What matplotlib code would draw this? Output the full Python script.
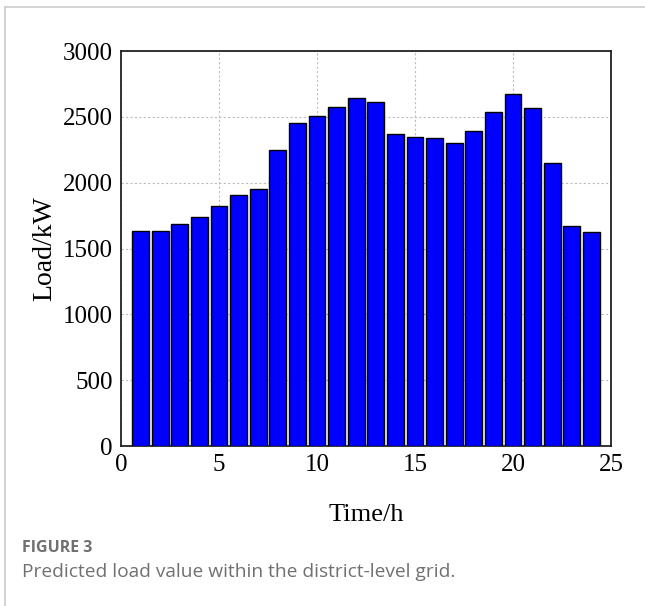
import matplotlib
matplotlib.use('Agg')
import matplotlib.pyplot as plt
from matplotlib.lines import Line2D

# hourly predicted load of the district grid
hours = list(range(1, 25))
load_kw = [1630, 1630, 1690, 1740, 1825, 1905, 1955, 2250, 2450, 2510, 2575, 2640,
           2610, 2370, 2350, 2340, 2300, 2390, 2540, 2670, 2565, 2150, 1670, 1625]

x_ticks = [0, 5, 10, 15, 20, 25]
y_ticks = [0, 500, 1000, 1500, 2000, 2500, 3000]

serif = ['Liberation Serif', 'DejaVu Serif']
sans = ['Open Sans', 'DejaVu Sans']

fig = plt.figure(figsize=(6.45, 6.06), dpi=100)
ax = fig.add_axes([0.1876, 0.264, 0.7597, 0.6518])

ax.bar(hours, load_kw, width=0.85, color='#0000ff', edgecolor='black', linewidth=1.0, zorder=3)

ax.set_xlim(0, 25)
ax.set_ylim(0, 3000)
ax.set_xticks(x_ticks)
ax.set_yticks(y_ticks)
ax.grid(True, color='#bdbdbd', linestyle=(0, (2, 2)), linewidth=0.8, zorder=0)
ax.tick_params(length=0, labelsize=18, pad=6)
for lab in ax.get_xticklabels() + ax.get_yticklabels():
    lab.set_family(serif)
for sp in ax.spines.values():
    sp.set_linewidth(1.3)
    sp.set_color('#222222')

ax.set_xlabel('Time/h', fontsize=19, family=serif, labelpad=20)
ax.set_ylabel('Load/kW', fontsize=20, family=serif, labelpad=4)

# card border and caption
fig.add_artist(Line2D([5 / 645, 1], [1 - 7 / 606, 1 - 7 / 606], color='#cccccc', lw=1.2))
fig.add_artist(Line2D([5 / 645, 5 / 645], [0, 1 - 7 / 606], color='#cccccc', lw=1.2))
fig.text(22 / 645, 1 - 548 / 606, 'FIGURE 3', fontsize=11.5, fontweight='bold',
         color='#707070', family=sans, va='center')
fig.text(22 / 645, 1 - 572 / 606, 'Predicted load value within the district-level grid.',
         fontsize=13.8, color='#707070', family=sans, va='center')

fig.savefig('out.png', dpi=100)
